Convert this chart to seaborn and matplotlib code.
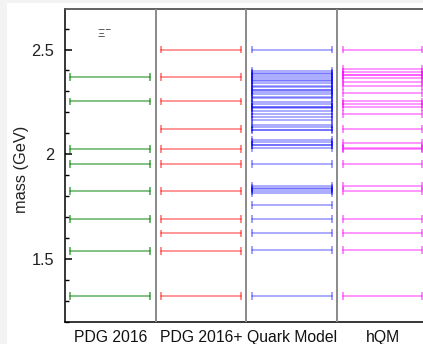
import matplotlib
matplotlib.use("Agg")
import matplotlib.pyplot as plt
from matplotlib.ticker import MultipleLocator, FixedLocator
import numpy as np
import pandas as pd
import seaborn as sns

# Cascade (Xi-) spectrum: masses in GeV
set_names = ["PDG 2016", "PDG 2016+", "Quark Model", "hQM"]

pdg2016 = [2.370, 2.252, 2.025, 1.952, 1.823, 1.690, 1.538, 1.3217]

pdg2016_plus = [2.500, 2.370, 2.252, 2.121, 2.025, 1.952, 1.823, 1.690,
                1.622, 1.540, 1.3217]

quark_model = [2.500, 2.398, 2.388, 2.383, 2.374, 2.364, 2.355, 2.351,
               2.341, 2.328, 2.321, 2.307, 2.305, 2.299, 2.287, 2.275,
               2.267, 2.251, 2.240, 2.227, 2.226, 2.220, 2.208, 2.190,
               2.176, 2.164, 2.142, 2.128, 2.118, 2.117, 2.068, 2.059,
               2.046, 2.044, 2.032, 1.954, 1.850, 1.840, 1.832, 1.825,
               1.815, 1.758, 1.691, 1.624, 1.543, 1.322]

hqm = [2.500, 2.406, 2.393, 2.379, 2.378, 2.362, 2.347, 2.326, 2.293,
       2.252, 2.238, 2.224, 2.192, 2.121, 2.055, 2.029, 2.027, 1.954,
       1.849, 1.825, 1.691, 1.624, 1.543, 1.322]

palette = {
    "PDG 2016": (0.0, 0.5, 0.0, 0.6),
    "PDG 2016+": (1.0, 0.0, 0.0, 0.5),
    "Quark Model": (0.0, 0.0, 1.0, 0.4),
    "hQM": (1.0, 0.0, 1.0, 0.5),
}

# Long table: one row per level
levels = pd.concat(
    [pd.DataFrame({"set": name, "mass": vals})
     for name, vals in zip(set_names, [pdg2016, pdg2016_plus, quark_model, hqm])],
    ignore_index=True,
)
levels["level"] = np.arange(len(levels))
levels["center"] = levels["set"].map({n: i + 0.5 for i, n in enumerate(set_names)})

half = 0.44
ends = pd.concat(
    [levels.assign(x=levels["center"] - half), levels.assign(x=levels["center"] + half)],
    ignore_index=True,
)

sns.set_theme(style="white")
plt.rcParams["font.family"] = ["Liberation Sans", "DejaVu Sans"]

fig = plt.figure(figsize=(4.23, 3.44), dpi=100, facecolor="#f3f3f3")
fig.patches.append(plt.Rectangle((7 / 423, 0), 1, 1 - 3 / 344,
                                 transform=fig.transFigure,
                                 facecolor="white", edgecolor="none", zorder=-1))
ax = fig.add_axes([65 / 423, 21.7 / 344, 362.8 / 423, 313 / 344])
ax.set_facecolor("white")

# Level lines
sns.lineplot(data=ends, x="x", y="mass", hue="set", units="level",
             estimator=None, palette=palette, linewidth=1.15, legend=False, ax=ax)
# End caps
sns.scatterplot(data=ends, x="x", y="mass", hue="set", palette=palette,
                marker="|", s=32, linewidth=1.3, legend=False, ax=ax)

# Panel separators
for i in range(1, len(set_names)):
    ax.axvline(i, color="#8a8a8a", linewidth=1.4, zorder=5)

ax.set_xlim(0, len(set_names))
ax.set_ylim(1.198, 2.692)

ax.xaxis.set_major_locator(FixedLocator([i + 0.5 for i in range(len(set_names))]))
ax.set_xticklabels(set_names, fontsize=11.3, color="#111111")
ax.tick_params(axis="x", length=0, pad=5.5)

ax.yaxis.set_major_locator(FixedLocator([1.5, 2.0, 2.5]))
ax.set_yticklabels(["1.5", "2", "2.5"], fontsize=11.8, color="#222222")
ax.yaxis.set_minor_locator(MultipleLocator(0.1))
ax.tick_params(axis="y", which="major", direction="in", length=5, width=1.1,
               color="black", pad=8, left=True)
ax.tick_params(axis="y", which="minor", direction="in", length=3, width=1.0,
               color="black", left=True)

ax.set_xlabel("")
ax.set_ylabel("mass (GeV)", fontsize=11.8, color="#222222")
ax.yaxis.set_label_coords(-0.10, 0.49)

for side in ["left", "bottom"]:
    ax.spines[side].set_color("black")
    ax.spines[side].set_linewidth(1.1)
ax.spines["top"].set_color("#555555")
ax.spines["top"].set_linewidth(1.3)
ax.spines["right"].set_color("#8a8a8a")

ax.text(0.43, 2.58, "Ξ$^{-}$", fontsize=8, ha="center", va="center", color="#333333")

fig.savefig("out.png", dpi=100, facecolor=fig.get_facecolor())
